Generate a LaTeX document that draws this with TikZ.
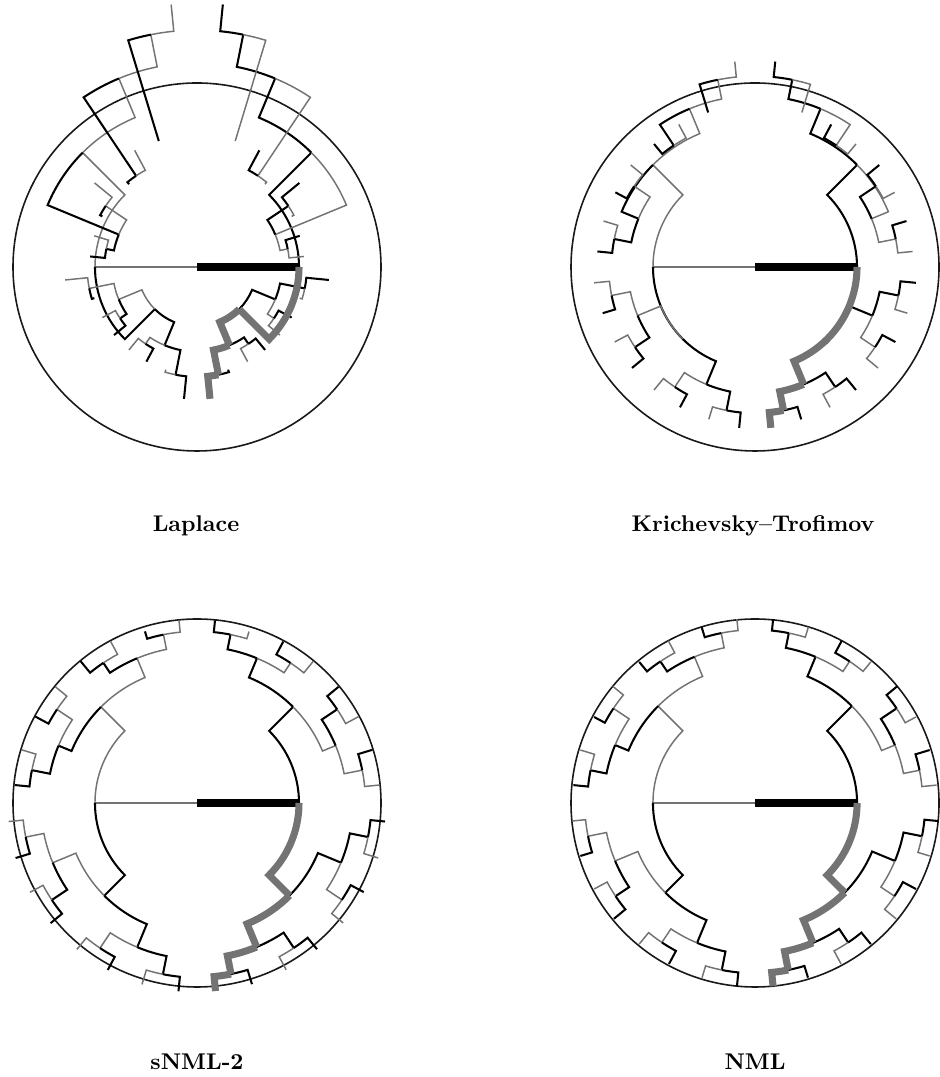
\documentclass[tikz,border=0pt]{standalone}
\usepackage{tikz}
\usetikzlibrary{calc}

% -log2 of the maximum likelihood of #1 ones in #2 bits
\newcommand{\mlcode}[2]{%
  \def\mlc{0}%
  \ifnum#1>0 \ifnum#1<#2
    \pgfmathsetmacro\mlc{-(#1*ln(#1/#2)+(#2-#1)*ln((#2-#1)/#2))/ln(2)}%
  \fi\fi}
\newcommand{\mlprob}[2]{\mlcode{#1}{#2}\pgfmathsetmacro\mlp{exp(-\mlc*0.693147)}}

% probability of a one after #2 ones in #3 bits (0 Laplace, 1 KT, 2 sNML-2)
\newcommand{\condone}[3]{%
  \ifcase#1
    \pgfmathsetmacro\pone{(#2+1)/(#3+2)}%
  \or
    \pgfmathsetmacro\pone{(#2+0.5)/(#3+1)}%
  \or
    \pgfmathtruncatemacro\nn{#3+2}%
    \pgfmathtruncatemacro\ka{#2+1}\pgfmathtruncatemacro\kb{#2+2}%
    \mlprob{#2}{\nn}\let\pza\mlp
    \mlprob{\ka}{\nn}\let\pzb\mlp
    \mlprob{\kb}{\nn}\let\pzc\mlp
    \pgfmathsetmacro\pone{(\pzb+\pzc)/(\pza+2*\pzb+\pzc)}%
  \fi}

% NML code length of a prefix with #1 ones in #2 bits, n=5
\newcommand{\nmlcode}[2]{%
  \gdef\qsum{0}%
  \pgfmathtruncatemacro\rest{5-#2}%
  \foreach \jj in {0,...,\rest}{%
    \pgfmathtruncatemacro\kj{#1+\jj}\mlprob{\kj}{5}%
    \pgfmathsetmacro\newq{\qsum+factorial(\rest)/(factorial(\jj)*factorial(\rest-\jj))*\mlp}%
    \xdef\qsum{\newq}}%
  \pgfmathsetmacro\nmlc{(ln(3.5104)-ln(\qsum))/ln(2)}}

% regret of prefix number #3 of length #2 under model #1
\newcommand{\prefixregret}[3]{%
  \gdef\acc{0}\gdef\ones{0}%
  \foreach \jj in {1,...,#2}{%
    \pgfmathtruncatemacro\bt{mod(floor(#3/2^(#2-\jj)),2)}%
    \ifnum#1<3
      \pgfmathtruncatemacro\mm{\jj-1}%
      \condone{#1}{\ones}{\mm}%
      \ifnum\bt=1 \pgfmathsetmacro\pbit{\pone}\else\pgfmathsetmacro\pbit{1-\pone}\fi
      \pgfmathsetmacro\newacc{\acc-ln(\pbit)/ln(2)}%
      \xdef\acc{\newacc}%
    \fi
    \pgfmathtruncatemacro\newones{\ones+\bt}\xdef\ones{\newones}%
  }%
  \ifnum#1=3 \nmlcode{\ones}{#2}\xdef\acc{\nmlc}\fi
  \mlcode{\ones}{#2}%
  \pgfmathsetmacro\rg{\acc-\mlc}}

% edge from the parent of prefix #3 (length #2) to it
\newcommand{\treeedge}[4]{%
  \prefixregret{#1}{#2}{#3}\let\rchild\rg
  \pgfmathtruncatemacro\tpar{#2-1}\pgfmathtruncatemacro\ipar{floor(#3/2)}%
  \prefixregret{#1}{\tpar}{\ipar}\let\rpar\rg
  \pgfmathsetmacro\rcc{\rchild*\bitlen}\pgfmathsetmacro\rpp{\rpar*\bitlen}%
  \pgfmathsetmacro\ac{90+360*(#3+0.5)/2^#2}%
  \pgfmathsetmacro\ap{90+360*(\ipar+0.5)/2^\tpar}%
  \pgfmathtruncatemacro\bit{mod(#3,2)}%
  \draw[bit=\bit,#4] (\ap:\rpp) arc[start angle=\ap, end angle=\ac, radius=\rpp] -- (\ac:\rcc);}

\newcommand{\codetree}[2]{%
  \begin{scope}[shift={#2}]
    \draw[ring] (0,0) circle[radius=184];
    \draw[zero] (0,0) -- (180:\bitlen);
    \foreach \t in {2,...,5}{%
      \pgfmathtruncatemacro\nlast{2^\t-1}%
      \foreach \i in {0,...,\nlast}{%
        \pgfmathtruncatemacro\ishl{\i==2^(\t-1)}%
        \ifnum\ishl=0 \treeedge{#1}{\t}{\i}{}\fi}}
    % the path 10000
    \draw[one, rootbar] (0,0) -- (0:\bitlen);
    \foreach \t in {2,...,5}{%
      \pgfmathtruncatemacro\ihl{2^(\t-1)}%
      \treeedge{#1}{\t}{\ihl}{hilite}}
  \end{scope}}

\begin{document}
\begin{tikzpicture}[
    x=0.44pt, y=0.44pt,
    zero/.style={draw=black!55, line width=0.65pt},
    one/.style={draw=black, line width=0.9pt},
    bit/.code={\ifnum#1=0 \tikzset{zero}\else\tikzset{one}\fi},
    hilite/.style={line width=3.1pt},
    rootbar/.style={line width=3.5pt},
    ring/.style={draw=black!90, line width=0.7pt},
    label/.style={font=\bfseries}
]
\def\bitlen{102}
\useasboundingbox (0,0) rectangle (939,1077);
% Trees
\codetree{0}{(197,810)}
\codetree{1}{(755,810)}
\codetree{2}{(197,274)}
\codetree{3}{(755,274)}
% Labels
\node[label] (lap) at (196,551) {Laplace};
\node[label] (kt) at (753,551) {Krichevsky--Trofimov};
\node[label] (snml) at (197,15) {sNML-2};
\node[label] (nml) at (755,15) {NML};
\end{tikzpicture}
\end{document}
